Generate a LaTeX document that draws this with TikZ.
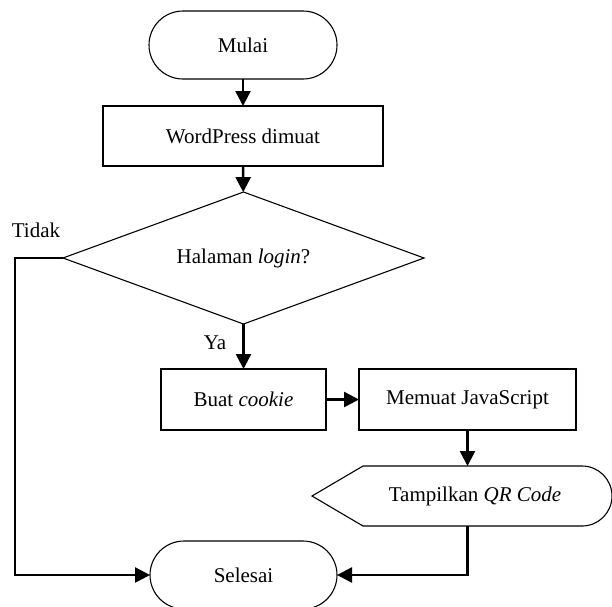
\documentclass[tikz,border=0pt]{standalone}
\usepackage{fontspec}
\setmainfont{Liberation Serif}
\usetikzlibrary{shapes.geometric,shapes.misc,arrows.meta}
\begin{document}
\begin{tikzpicture}[x=1pt,y=1pt,
  every node/.style={font=\fontsize{21}{25}\selectfont, inner sep=0pt, outer sep=0pt},
  outline/.style={draw, line width=1.1pt},
  stepbox/.style={outline, rectangle, minimum height=61pt},
  terminal/.style={outline, rounded rectangle, minimum width=188pt, minimum height=68pt},
  decision/.style={outline, diamond, aspect=2.735, minimum width=361pt, minimum height=132pt},
  flow/.style={line width=2.5pt, line join=miter, -{Triangle[length=15pt,width=15pt]}},
  lbl/.style={font=\fontsize{21}{25}\selectfont}]
\useasboundingbox (0,0) rectangle (612,-606);

% nodes
\node[terminal] (start) at (243,-45) {Mulai};
\node[stepbox, minimum width=280pt, minimum height=60pt] (wp) at (243,-136) {WordPress dimuat};
\node[decision] (dec) at (243.5,-258) {Halaman \textit{login}?};
\node[stepbox, minimum width=165pt] (cookie) at (243.5,-399.5) {Buat \textit{cookie}};
\node[stepbox, minimum width=217pt] (js) at (467.5,-399.5) {Memuat JavaScript};
\node[minimum height=60pt] (disp) at (475,-496) {Tampilkan \textit{QR Code}};
\node[terminal, minimum width=187pt] (end) at (243.5,-575) {Selesai};

% display symbol outline
\draw[outline, line join=miter] (312,-496) -- (363,-466) -- (582,-466)
  arc[start angle=90, end angle=-90, radius=30] -- (363,-526) -- cycle;

% branch labels
\node[lbl] (no) at (36,-230) {Tidak};
\node[lbl] (yes) at (215,-343) {Ya};

% connectors
\coordinate (corner) at ([xshift=-48pt]dec.west);
\draw[flow] (start) -- (wp);
\draw[flow] (wp) -- (dec);
\draw[flow] (dec) -- (cookie);
\draw[flow] (cookie) -- (js);
\draw[flow] (js.south) -- (js.south |- disp.north);
\draw[flow] (js.south |- disp.south) |- (end.east);
\draw[flow] (dec.west) -- (corner) |- (end.west);
\end{tikzpicture}
\end{document}
